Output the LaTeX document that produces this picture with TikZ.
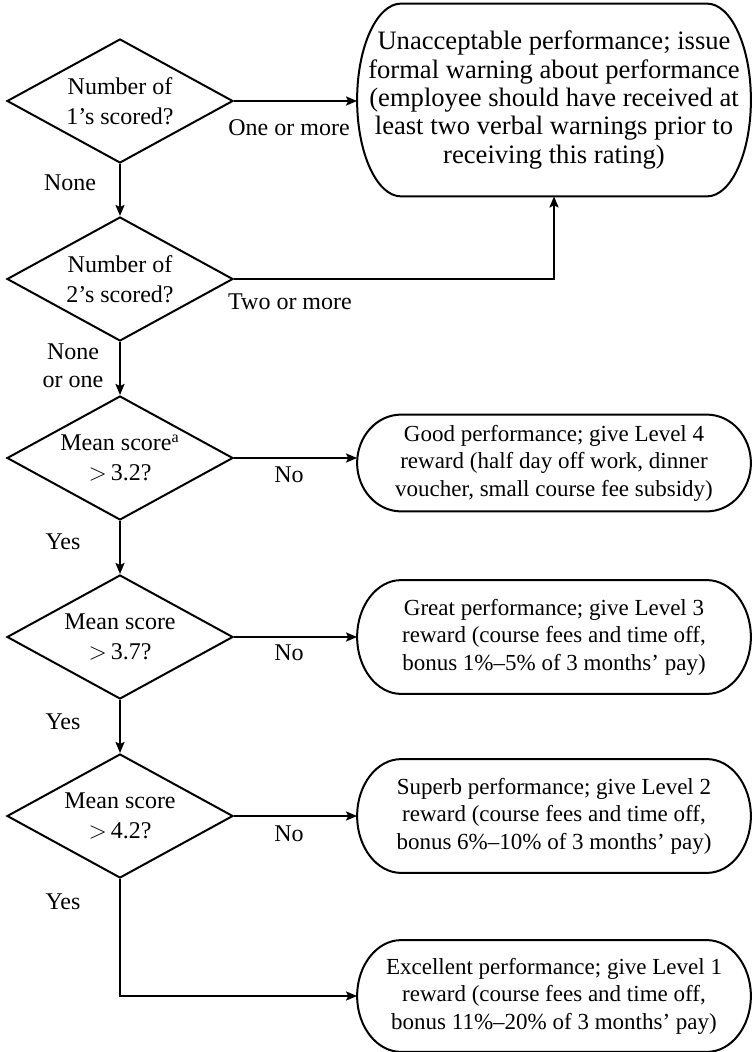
\documentclass[tikz,border=0pt]{standalone}
\usepackage{fontspec}
\setmainfont{Liberation Serif}
\usetikzlibrary{shapes.geometric,arrows.meta}
\newcommand\pilloutline[3]{%
  \draw[boxline] ([xshift=#2]#1.north west) -- ([xshift=-#2]#1.north east)
    .. controls +(0.5523*#2,0) and +(0,0.5523*#3) .. (#1.east)
    .. controls +(0,-0.5523*#3) and +(0.5523*#2,0) .. ([xshift=-#2]#1.south east)
    -- ([xshift=#2]#1.south west)
    .. controls +(-0.5523*#2,0) and +(0,-0.5523*#3) .. (#1.west)
    .. controls +(0,0.5523*#3) and +(-0.5523*#2,0) .. ([xshift=#2]#1.north west) -- cycle;}
\tikzset{
  decision/.style={diamond, draw, aspect=1.82, line width=1pt, minimum width=113pt, minimum height=62pt, inner sep=-3pt, align=center, font=\fontsize{12}{15}\selectfont},
  outcome/.style={rectangle, inner sep=0pt, minimum width=196.5pt, align=center, font=\fontsize{11.5}{13.8}\selectfont},
  bigoutcome/.style={outcome, font=\fontsize{13.3}{14.2}\selectfont},
  boxline/.style={line width=1pt, line join=round},
  lbl/.style={inner sep=0pt, align=center, font=\fontsize{12}{14}\selectfont},
  conn/.style={line width=1pt, -{Stealth[length=5.5pt,width=4.5pt,inset=1pt]}},
}
\begin{document}
\begin{tikzpicture}[x=0.5pt,y=-0.5pt]
\useasboundingbox (0,0) rectangle (751,1052);
% decisions
\node[decision] (d1) at (120,101) {Number of\\1’s scored?};
\node[decision] (d2) at (120,279) {Number of\\2’s scored?};
\node[decision] (d3) at (120,458) {Mean score\textsuperscript{a}\\$>$\,3.2?};
\node[decision] (d4) at (120,637) {Mean score\\$>$\,3.7?};
\node[decision] (d5) at (120,816) {Mean score\\$>$\,4.2?};
% outcomes
\node[bigoutcome, minimum height=96pt] (b1) at (554,100) {Unacceptable performance; issue\\formal warning about performance\\(employee should have received at\\least two verbal warnings prior to\\receiving this rating)};
\node[outcome, minimum height=48pt] (b2) at (554,463) {Good performance; give Level 4\\reward (half day off work, dinner\\voucher, small course fee subsidy)};
\node[outcome, minimum height=56.5pt] (b3) at (554,637) {Great performance; give Level 3\\reward (course fees and time off,\\bonus 1\%–5\% of 3 months’ pay)};
\node[outcome, minimum height=56.5pt] (b4) at (554,816) {Superb performance; give Level 2\\reward (course fees and time off,\\bonus 6\%–10\% of 3 months’ pay)};
\node[outcome, minimum height=55.5pt] (b5) at (554,996) {Excellent performance; give Level 1\\reward (course fees and time off,\\bonus 11\%–20\% of 3 months’ pay)};
\pilloutline{b1}{22pt}{48pt}
\pilloutline{b2}{22pt}{24pt}
\pilloutline{b3}{22pt}{28.25pt}
\pilloutline{b4}{22pt}{28.25pt}
\pilloutline{b5}{22pt}{27.75pt}
% connectors
\draw[conn] (d1.east) -- (d1.east -| b1.west);
\draw[conn] (d1.south) -- (d2.north);
\draw[conn] (d2.east) -| (b1.south);
\draw[conn] (d2.south) -- (d3.north);
\draw[conn] (d3.east) -- (d3.east -| b2.west);
\draw[conn] (d3.south) -- (d4.north);
\draw[conn] (d4.east) -- (d4.east -| b3.west);
\draw[conn] (d4.south) -- (d5.north);
\draw[conn] (d5.east) -- (d5.east -| b4.west);
\draw[conn] (d5.south) |- (b5.west);
% labels
\node[lbl] (l1) at (289,128) {One or more};
\node[lbl] (l2) at (70,183) {None};
\node[lbl] (l3) at (290,302) {Two or more};
\node[lbl] (l4) at (73,366) {None\\or one};
\node[lbl] (l5) at (289,475) {No};
\node[lbl] (l6) at (63,542) {Yes};
\node[lbl] (l7) at (289,653) {No};
\node[lbl] (l8) at (63,722) {Yes};
\node[lbl] (l9) at (289,834) {No};
\node[lbl] (l10) at (63,902) {Yes};
\end{tikzpicture}
\end{document}
